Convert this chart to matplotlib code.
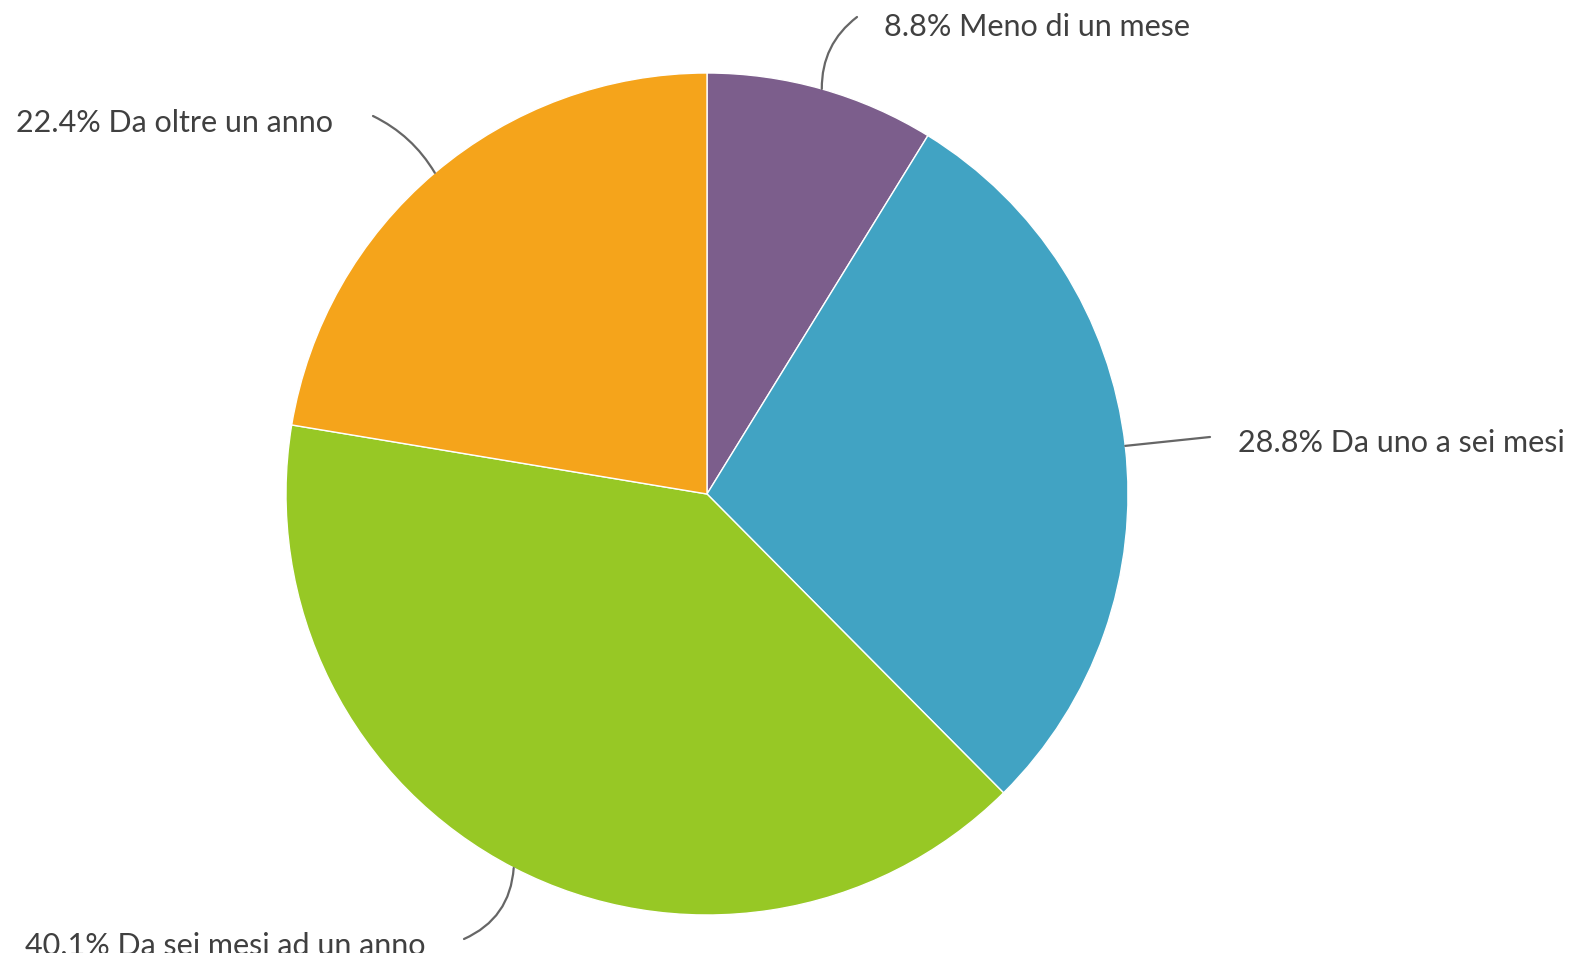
import numpy as np
import matplotlib.pyplot as plt

# Data
labels = ['Meno di un mese', 'Da uno a sei mesi', 'Da sei mesi ad un anno', 'Da oltre un anno']
values = [8.8, 28.8, 40.1, 22.4]
colors = ['#7C5E8C', '#41A3C3', '#97C825', '#F5A41B']

W, H = 1575, 954
fig = plt.figure(figsize=(W / 100, H / 100), dpi=100)
ax = fig.add_axes([0, 0, 1, 1])
ax.set_xlim(0, W)
ax.set_ylim(0, H)
ax.set_aspect('equal')
ax.axis('off')

cx, cy, r = 707, H - 495, 421
ax.pie(values, colors=colors, startangle=90, counterclock=False,
       center=(cx, cy), radius=r, frame=True,
       wedgeprops=dict(edgecolor='white', linewidth=1))
ax.set_xlim(0, W)
ax.set_ylim(0, H)
ax.axis('off')

# label layout: end of leader line, text left x, text y, curvature (top-down pixel coords)
layout = [
    ((857, 18), (884, 27), 0.25),
    ((1210, 438), (1238, 443), 0.0),
    ((464, 940), (25, 946), 0.3),
    ((373, 117), (16, 123), -0.15),
]

total = sum(values)
cum = 0
for lab, v, (end, tpos, rad) in zip(labels, values, layout):
    mid = (cum + v / 2) / total * 360
    cum += v
    ang = np.radians(90 - mid)
    ax_pt = (cx + r * np.cos(ang), cy + r * np.sin(ang))
    ax.annotate('', xy=ax_pt, xytext=(end[0], H - end[1]),
                arrowprops=dict(arrowstyle='-', color='#666666', lw=1.6,
                                shrinkA=0, shrinkB=0,
                                connectionstyle=f'arc3,rad={rad}'))
    ax.text(tpos[0], H - tpos[1], f'{v}% {lab}', ha='left', va='center',
            fontsize=22, family='Lato', color='#404040')

fig.savefig('out.png', dpi=100)
